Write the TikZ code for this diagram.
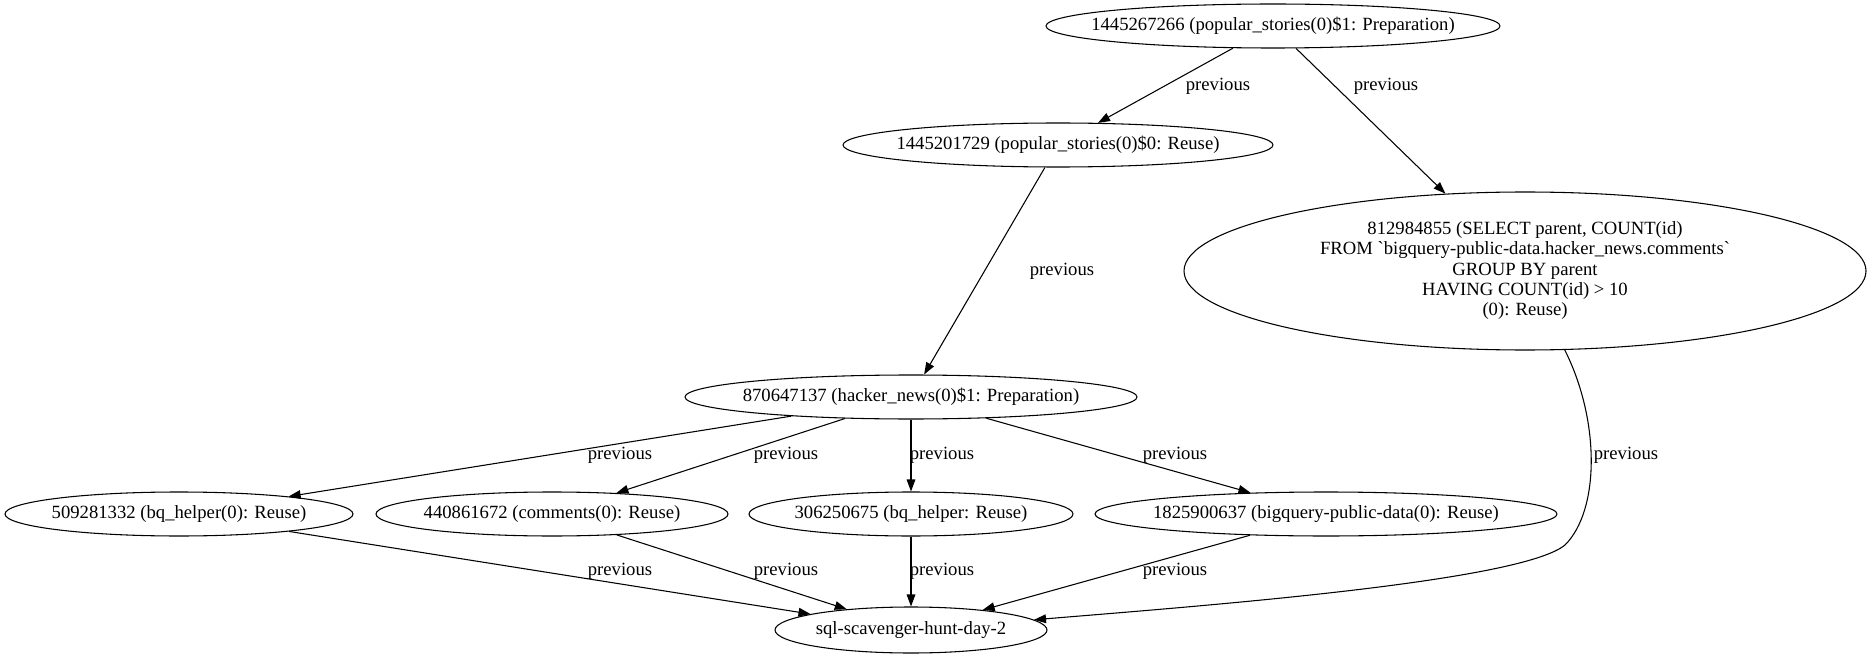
\documentclass[tikz,border=0pt]{standalone}
\usepackage{fontspec}
\setmainfont{Liberation Serif}[Ligatures=TeXOff]
\usetikzlibrary{shapes.geometric,arrows.meta}
\newcommand{\zb}[1]{\makebox[0pt]{#1}}
\tikzset{
  gnode/.style={draw, ellipse, inner sep=0pt, line width=0.8pt, font=\fontsize{14}{15.2}\selectfont},
  elabel/.style={font=\fontsize{14}{15.2}\selectfont, inner sep=0pt},
  edge/.style={line width=0.8pt, -{Triangle[length=9pt,width=6.5pt]}},
}
\begin{document}
\begin{tikzpicture}[x=0.75pt,y=-0.75pt]
\useasboundingbox (0,0) rectangle (1873,659);
\node[gnode, minimum width=340.5pt, minimum height=33pt] (A) at (1273,26) {\zb{1445267266 (popular\_stories(0)\$1: Preparation)}};
\node[gnode, minimum width=322.5pt, minimum height=33pt] (B) at (1058,145) {\zb{1445201729 (popular\_stories(0)\$0: Reuse)}};
\node[gnode, minimum width=511.5pt, minimum height=118.5pt] (C) at (1525,271) {\zb{\begin{tabular}{@{}c@{}}812984855 (SELECT parent, COUNT(id)\\ FROM `bigquery-public-data.hacker\_news.comments`\\ GROUP BY parent\\ HAVING COUNT(id) > 10\\ (0): Reuse)\end{tabular}}};
\node[gnode, minimum width=339pt, minimum height=33pt] (D) at (911,397) {\zb{870647137 (hacker\_news(0)\$1: Preparation)}};
\node[gnode, minimum width=261pt, minimum height=33pt] (E1) at (179,514) {\zb{509281332 (bq\_helper(0): Reuse)}};
\node[gnode, minimum width=264pt, minimum height=33pt] (E2) at (552,514) {\zb{440861672 (comments(0): Reuse)}};
\node[gnode, minimum width=243pt, minimum height=33pt] (E3) at (911,514) {\zb{306250675 (bq\_helper: Reuse)}};
\node[gnode, minimum width=346.5pt, minimum height=33pt] (E4) at (1326,514) {\zb{1825900637 (bigquery-public-data(0): Reuse)}};
\node[gnode, minimum width=204pt, minimum height=34.5pt] (F) at (911,630) {\zb{sql-scavenger-hunt-day-2}};

\draw[edge] (A) -- (B);
\draw[edge] (A) -- (C);
\draw[edge] (B) -- (D);
\draw[edge] (D) -- (E1);
\draw[edge] (D) -- (E2);
\draw[edge] (D) -- (E3);
\draw[edge] (D) -- (E4);
\draw[edge] (E1) -- (F);
\draw[edge] (E2) -- (F);
\draw[edge] (E3) -- (F);
\draw[edge] (E4) -- (F);
\coordinate (k) at (1565,545);
\draw[edge] (C) .. controls (1600,420) and (1600,510) .. (k) .. controls (1520,582) and (1200,606) .. (F);

\node[elabel] (lAB) at (1218,86) {previous};
\node[elabel] (lAC) at (1386,86) {previous};
\node[elabel] (lBD) at (1062,271) {previous};
\node[elabel] (lCF) at (1626,455) {previous};
\node[elabel] (lD1) at (620,455) {previous};
\node[elabel] (lD2) at (786,455) {previous};
\node[elabel] (lD3) at (942,455) {previous};
\node[elabel] (lD4) at (1175,455) {previous};
\node[elabel] (l1F) at (620,571) {previous};
\node[elabel] (l2F) at (786,571) {previous};
\node[elabel] (l3F) at (942,571) {previous};
\node[elabel] (l4F) at (1175,571) {previous};
\end{tikzpicture}
\end{document}
